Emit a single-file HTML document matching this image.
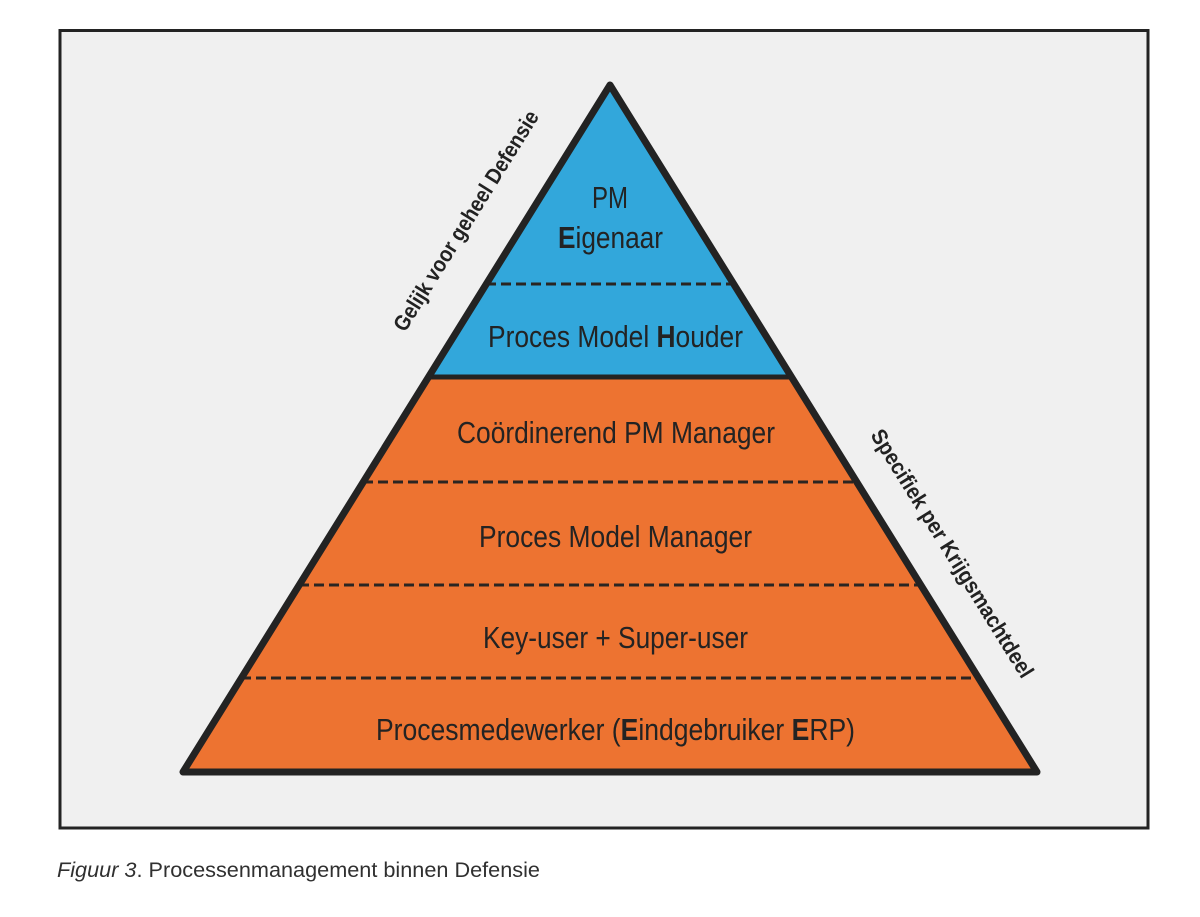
<!DOCTYPE html>
<html>
<head>
<meta charset="utf-8">
<style>
  html, body { margin:0; padding:0; background:#ffffff; }
  svg { display:block; }
</style>
</head>
<body>
<svg width="1200" height="917" viewBox="0 0 1200 917" xmlns="http://www.w3.org/2000/svg">
  <rect x="0" y="0" width="1200" height="917" fill="#ffffff"/>
  <!-- outer frame -->
  <rect x="60" y="30.5" width="1088" height="797.5" fill="#f0f0f0" stroke="#232323" stroke-width="3"/>

  <!-- pyramid fills -->
  <polygon points="610,85 183,772 1037,772" fill="#ed7331"/>
  <polygon points="610,85 428.5,377 791.5,377" fill="#32a7db"/>

  <!-- dashed separators -->
  <g stroke="#2a2522" stroke-width="3" stroke-dasharray="10,5" fill="none">
    <line x1="486" y1="284" x2="734" y2="284"/>
    <line x1="363" y1="482" x2="857" y2="482"/>
    <line x1="299" y1="585" x2="921" y2="585"/>
    <line x1="241" y1="678" x2="979" y2="678"/>
  </g>

  <!-- blue/orange boundary -->
  <line x1="428.5" y1="377" x2="791.5" y2="377" stroke="#232323" stroke-width="5"/>

  <!-- pyramid outline -->
  <polygon points="610,85 183,772 1037,772" fill="none" stroke="#232323" stroke-width="7" stroke-linejoin="round"/>

  <!-- pyramid labels -->
  <g font-family="'Liberation Sans', Arial, sans-serif" font-size="31" fill="#232323">
    <text x="592" y="208" textLength="36" lengthAdjust="spacingAndGlyphs">PM</text>
    <text x="558" y="248" textLength="105" lengthAdjust="spacingAndGlyphs"><tspan font-weight="bold">E</tspan>igenaar</text>
    <text x="488" y="347" textLength="255" lengthAdjust="spacingAndGlyphs">Proces Model <tspan font-weight="bold">H</tspan>ouder</text>
    <text x="457" y="443" textLength="318" lengthAdjust="spacingAndGlyphs">Coördinerend PM Manager</text>
    <text x="479" y="547" textLength="273" lengthAdjust="spacingAndGlyphs">Proces Model Manager</text>
    <text x="483" y="648" textLength="265" lengthAdjust="spacingAndGlyphs">Key-user + Super-user</text>
    <text x="376" y="740" textLength="479" lengthAdjust="spacingAndGlyphs">Procesmedewerker (<tspan font-weight="bold">E</tspan>indgebruiker <tspan font-weight="bold">E</tspan>RP)</text>
  </g>

  <!-- side labels -->
  <g font-family="'Liberation Sans', Arial, sans-serif" font-weight="bold" fill="#222222">
    <text transform="translate(405,333) rotate(-58.15)" font-size="22" textLength="255" lengthAdjust="spacingAndGlyphs">Gelijk voor geheel Defensie</text>
    <text transform="translate(870,435) rotate(58.15)" font-size="22" textLength="288" lengthAdjust="spacingAndGlyphs">Specifiek per Krijgsmachtdeel</text>
  </g>

  <!-- caption -->
  <text x="57" y="877" font-family="'Liberation Sans', Arial, sans-serif" font-size="21" fill="#303030" textLength="483" lengthAdjust="spacingAndGlyphs"><tspan font-style="italic">Figuur 3</tspan>. Processenmanagement binnen Defensie</text>
</svg>
</body>
</html>
